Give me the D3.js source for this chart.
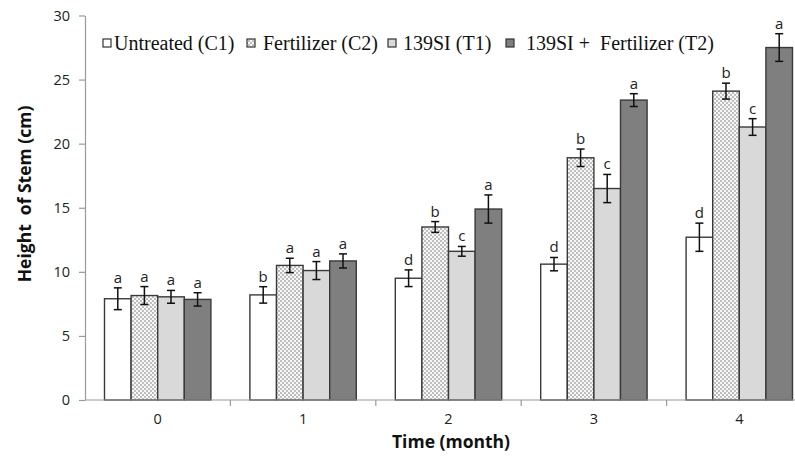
<!DOCTYPE html>
<html>
<head>
<meta charset="utf-8">
<script src="https://cdn.jsdelivr.net/npm/d3@7"></script>
<style>
  body { margin: 0; background: #fff; }
  text { white-space: pre; }
</style>
</head>
<body>
<script>
let width = 795;
let height = 457;

// data
let months = ["0", "1", "2", "3", "4"];
let seriesNames = ["Untreated (C1)", "Fertilizer (C2)", "139SI (T1)", "139SI +  Fertilizer (T2)"];
let c1 = [7.9, 8.2, 9.5, 10.6, 12.7];
let c2 = [8.15, 10.5, 13.5, 18.9, 24.1];
let t1 = [8.05, 10.1, 11.6, 16.5, 21.3];
let t2 = [7.85, 10.85, 14.9, 23.4, 27.5];
let c1Err = [0.85, 0.64, 0.65, 0.52, 1.1];
let c2Err = [0.7, 0.56, 0.42, 0.68, 0.62];
let t1Err = [0.5, 0.7, 0.38, 1.1, 0.65];
let t2Err = [0.52, 0.55, 1.1, 0.5, 1.08];
let c1Sig = ["a", "b", "d", "d", "d"];
let c2Sig = ["a", "a", "b", "b", "b"];
let t1Sig = ["a", "a", "c", "c", "c"];
let t2Sig = ["a", "a", "a", "a", "a"];
let yTicks = [0, 5, 10, 15, 20, 25, 30];

let values = [c1, c2, t1, t2];
let errs = [c1Err, c2Err, t1Err, t2Err];
let sigs = [c1Sig, c2Sig, t1Sig, t2Sig];

let rows = [];
months.forEach(function(m, i) {
    seriesNames.forEach(function(s, j) {
        rows.push({ month: m, series: j, value: values[j][i], err: errs[j][i], sig: sigs[j][i] });
    });
});

let plotLeft = 85, plotBottom = 400, plotTop = 15.5;

// scales
let xScale = d3.scaleBand()
    .domain(months)
    .range([plotLeft, plotLeft + 145.4 * 5])
    .paddingInner(0)
    .paddingOuter(0);

let xInner = d3.scaleBand()
    .domain(d3.range(seriesNames.length))
    .range([0, xScale.bandwidth()])
    .paddingOuter(0.733);

let yScale = d3.scaleLinear()
    .domain([0, 30])
    .range([plotBottom, plotTop]);

let fills = ["#ffffff", "url(#dots)", "#d9d9d9", "#7f7f7f"];

let svg = d3.select("body")
    .append("svg")
    .attr("width", width)
    .attr("height", height);

// dotted pattern
let pat = svg.append("defs").append("pattern")
    .attr("id", "dots")
    .attr("patternUnits", "userSpaceOnUse")
    .attr("width", 4)
    .attr("height", 4);
pat.append("rect").attr("width", 4).attr("height", 4).attr("fill", "#f7f7f7");
pat.append("circle").attr("cx", 1).attr("cy", 1).attr("r", 0.65).attr("fill", "#555");
pat.append("circle").attr("cx", 3).attr("cy", 3).attr("r", 0.65).attr("fill", "#555");

// bars
svg.selectAll("rect.bar")
    .data(rows)
    .enter()
    .append("rect")
    .attr("class", "bar")
    .attr("x", function(d) { return xScale(d.month) + xInner(d.series); })
    .attr("y", function(d) { return yScale(d.value); })
    .attr("width", xInner.bandwidth())
    .attr("height", function(d) { return plotBottom - yScale(d.value); })
    .attr("fill", function(d) { return fills[d.series]; })
    .attr("stroke", "#3a3a3a")
    .attr("stroke-width", 1.4);

// error bars
let eb = svg.selectAll("g.err")
    .data(rows)
    .enter()
    .append("g")
    .attr("class", "err")
    .attr("stroke", "#111")
    .attr("stroke-width", 1.5);

function cx(d) { return xScale(d.month) + xInner(d.series) + xInner.bandwidth() / 2; }

eb.append("line")
    .attr("x1", cx).attr("x2", cx)
    .attr("y1", function(d) { return yScale(d.value + d.err); })
    .attr("y2", function(d) { return yScale(d.value - d.err); });
eb.append("line")
    .attr("x1", function(d) { return cx(d) - 4; })
    .attr("x2", function(d) { return cx(d) + 4; })
    .attr("y1", function(d) { return yScale(d.value + d.err); })
    .attr("y2", function(d) { return yScale(d.value + d.err); });
eb.append("line")
    .attr("x1", function(d) { return cx(d) - 4; })
    .attr("x2", function(d) { return cx(d) + 4; })
    .attr("y1", function(d) { return yScale(d.value - d.err); })
    .attr("y2", function(d) { return yScale(d.value - d.err); });

// significance letters
svg.selectAll("text.sig")
    .data(rows)
    .enter()
    .append("text")
    .attr("class", "sig")
    .text(function(d) { return d.sig; })
    .attr("x", cx)
    .attr("y", function(d) { return yScale(d.value + d.err) - 5; })
    .attr("font-family", "Open Sans")
    .attr("font-size", "15px")
    .attr("fill", "#222")
    .attr("text-anchor", "middle");

// y axis
let yAxis = svg.append("g")
    .attr("transform", "translate(" + plotLeft + ",0)")
    .call(d3.axisLeft(yScale).tickValues(yTicks).tickSize(6).tickSizeOuter(0).tickPadding(9));
yAxis.select(".domain").attr("stroke", "#9a9a9a").attr("stroke-width", 1.2);
yAxis.selectAll(".tick line").attr("stroke", "#9a9a9a").attr("stroke-width", 1.2);
yAxis.selectAll(".tick text")
    .attr("font-family", "Open Sans")
    .attr("font-size", "14.5px")
    .attr("fill", "#222");

// x axis
let xAxis = svg.append("g")
    .attr("transform", "translate(0," + plotBottom + ")");
xAxis.append("line")
    .attr("x1", plotLeft).attr("x2", width)
    .attr("stroke", "#9a9a9a").attr("stroke-width", 1.2);
xAxis.selectAll("line.tk")
    .data(months.slice(1))
    .enter()
    .append("line")
    .attr("class", "tk")
    .attr("x1", function(d) { return xScale(d); })
    .attr("x2", function(d) { return xScale(d); })
    .attr("y1", 0).attr("y2", 6)
    .attr("stroke", "#9a9a9a").attr("stroke-width", 1.2);
xAxis.selectAll("text")
    .data(months)
    .enter()
    .append("text")
    .text(function(d) { return d; })
    .attr("x", function(d) { return xScale(d) + xScale.bandwidth() / 2; })
    .attr("y", 24)
    .attr("font-family", "Open Sans")
    .attr("font-size", "14.5px")
    .attr("fill", "#222")
    .attr("text-anchor", "middle");

// axis titles
svg.append("text")
    .text("Time (month)")
    .attr("x", 451)
    .attr("y", 448)
    .attr("font-family", "Open Sans")
    .attr("font-weight", "bold")
    .attr("font-size", "17.5px")
    .attr("fill", "#111")
    .attr("text-anchor", "middle");

svg.append("text")
    .text("Height  of Stem (cm)")
    .attr("transform", "translate(31,194) rotate(-90)")
    .attr("font-family", "Open Sans")
    .attr("font-weight", "bold")
    .attr("font-size", "17.5px")
    .attr("fill", "#111")
    .attr("text-anchor", "middle");

// legend
let legendX = [103, 247, 388, 506];
let legendTextX = [114, 263, 403, 526];
let lg = svg.selectAll("g.legend")
    .data(seriesNames)
    .enter()
    .append("g")
    .attr("class", "legend");
lg.append("rect")
    .attr("x", function(d, i) { return legendX[i]; })
    .attr("y", 39)
    .attr("width", 8).attr("height", 8)
    .attr("fill", function(d, i) { return fills[i]; })
    .attr("stroke", "#333")
    .attr("stroke-width", 1.2);
lg.append("text")
    .text(function(d) { return d; })
    .attr("x", function(d, i) { return legendTextX[i]; })
    .attr("y", 50)
    .attr("font-family", "Liberation Serif")
    .attr("font-size", "20px")
    .attr("fill", "#111");
</script>
</body>
</html>
